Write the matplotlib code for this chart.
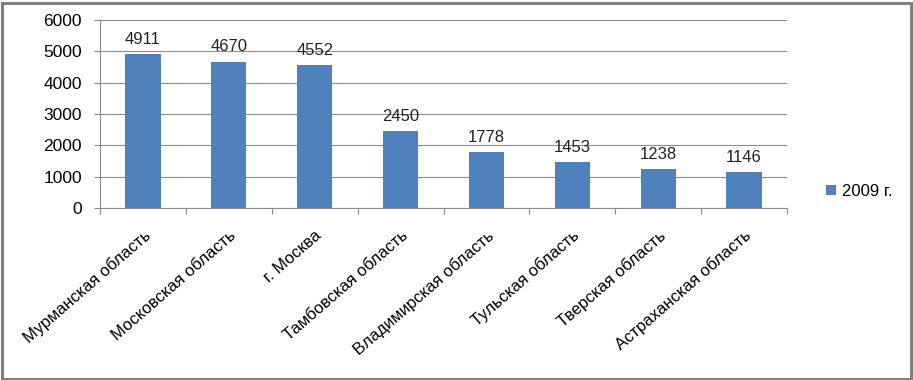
import matplotlib
matplotlib.use("Agg")
import matplotlib.pyplot as plt
from matplotlib.patches import Rectangle

categories = ["Мурманская область", "Московская область", "г. Москва",
              "Тамбовская область", "Владимирская область", "Тульская область",
              "Тверская область", "Астраханская область"]
values_2009 = [4911, 4670, 4552, 2450, 1778, 1453, 1238, 1146]
series_name = "2009 г."
yticks = [0, 1000, 2000, 3000, 4000, 5000, 6000]

plt.rcParams['font.family'] = ['Liberation Sans', 'DejaVu Sans']

fig = plt.figure(figsize=(9.13, 3.80), dpi=100)
ax = fig.add_axes([100/913, 1-208/380, 687/913, 188/380])

x = list(range(len(categories)))
bars = ax.bar(x, values_2009, width=0.41, color="#4F81BD", label=series_name, zorder=3)
for xi, v in zip(x, values_2009):
    ax.text(xi, v + 230, str(v), ha="center", va="bottom", fontsize=12, color="#222222")

ax.set_xlim(-0.5, len(categories) - 0.5)
ax.set_ylim(0, 6000)
ax.set_yticks(yticks)
ax.set_yticklabels([str(t) for t in yticks], fontsize=12.5)
ax.yaxis.grid(True, color="#8C8C8C", linewidth=0.8, zorder=0)
ax.set_axisbelow(True)

ax.set_xticks([i - 0.5 for i in range(len(categories) + 1)], minor=False)
ax.set_xticklabels([])
ax.set_xticks(x, minor=True)
ax.set_xticklabels(categories, minor=True, rotation=41, ha="right",
                   rotation_mode="anchor", fontsize=12)
ax.tick_params(axis="x", which="minor", length=0, pad=14)
ax.tick_params(axis="x", which="major", length=4, color="#8C8C8C")
ax.tick_params(axis="y", length=4, color="#8C8C8C", pad=9)

for s in ["top", "right"]:
    ax.spines[s].set_visible(False)
for s in ["left", "bottom"]:
    ax.spines[s].set_color("#8C8C8C")
    ax.spines[s].set_linewidth(0.8)

ax.legend(loc="center left", bbox_to_anchor=(818/913, 1-191/380),
          bbox_transform=fig.transFigure, frameon=False, fontsize=12,
          handlelength=0.55, handleheight=0.55, handletextpad=0.4, borderpad=0)

fig.patches.append(Rectangle((1.5/913, 1.5/380), 909/913, 376/380,
                             transform=fig.transFigure, fill=False,
                             edgecolor="#808080", linewidth=2.2))

fig.savefig("out.png", dpi=100)
